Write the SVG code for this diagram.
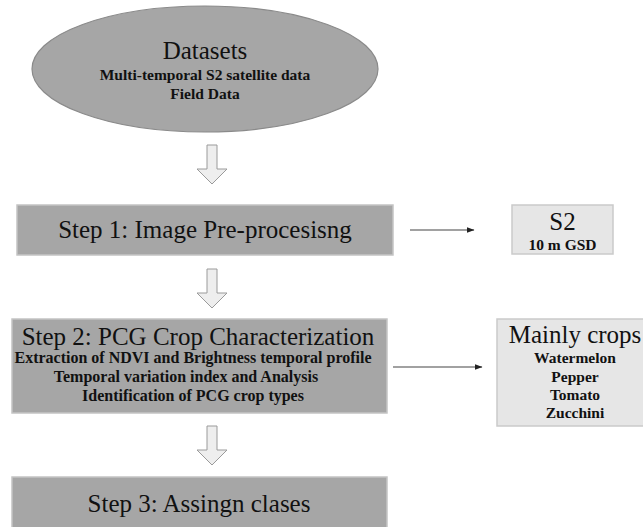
<svg xmlns="http://www.w3.org/2000/svg" width="643" height="527" viewBox="0 0 643 527" font-family="'Liberation Serif', 'DejaVu Serif', serif">
<style>
.dark{fill:#a6a6a6;stroke:#c4c4c4;stroke-width:1.5}
.ell{fill:#a6a6a6;stroke:#8a8a8a;stroke-width:1.2}
.light{fill:#e6e6e6;stroke:#cacaca;stroke-width:1.5}
text{font-family:'Liberation Serif','DejaVu Serif',serif}
.big{font-size:25px;fill:#111;text-anchor:middle}
.sub{font-size:15.5px;font-weight:bold;fill:#111;text-anchor:middle}
.s16{font-size:16px}
.blk{fill:#eeeeee;stroke:#9a9a9a;stroke-width:1}
.ln{stroke:#444;stroke-width:1.2;fill:none}
</style>
<defs>
<marker id="ah" markerWidth="8" markerHeight="6" refX="7.5" refY="3" orient="auto" markerUnits="userSpaceOnUse">
<path d="M0,0 L8,3 L0,6 Z" fill="#222"/>
</marker>
<path id="blockArrow" d="M-5,0 H5 V24 H15 L0,39 L-15,24 H-5 Z"/>
</defs>
<rect width="643" height="527" fill="#fff"/>

<g id="datasets">
<ellipse class="ell" cx="205" cy="69" rx="173" ry="63"/>
<text class="big" x="205" y="59">Datasets</text>
<text class="sub" x="205" y="80">Multi-temporal S2 satellite data</text>
<text class="sub" x="205" y="99">Field Data</text>
</g>

<g id="step1">
<rect class="dark" x="17" y="205" width="376" height="50"/>
<text class="big" x="205" y="238">Step 1: Image Pre-procesisng</text>
</g>

<g id="s2">
<rect class="light" x="512" y="205" width="101" height="49"/>
<text class="big" x="562.5" y="230">S2</text>
<text class="sub" x="562.5" y="250">10 m GSD</text>
</g>

<g id="step2">
<rect class="dark" x="12" y="319" width="375" height="94"/>
<text class="big" x="198" y="345">Step 2: PCG Crop Characterization</text>
<text class="sub s16" x="193" y="363">Extraction of NDVI and Brightness temporal profile</text>
<text class="sub s16" x="186" y="382">Temporal variation  index and Analysis</text>
<text class="sub s16" x="193" y="401">Identification  of PCG crop types</text>
</g>

<g id="crops">
<rect class="light" x="497" y="319" width="160" height="107"/>
<text class="big" x="575" y="343">Mainly crops</text>
<text class="sub" x="575" y="363">Watermelon</text>
<text class="sub" x="575" y="382">Pepper</text>
<text class="sub" x="575" y="400">Tomato</text>
<text class="sub" x="575" y="418">Zucchini</text>
</g>

<g id="step3">
<rect class="dark" x="12" y="477" width="375" height="60"/>
<text class="big" x="199" y="512">Step 3: Assingn clases</text>
</g>

<g id="connectors">
<use href="#blockArrow" class="blk" x="212" y="145"/>
<use href="#blockArrow" class="blk" x="212" y="269"/>
<use href="#blockArrow" class="blk" x="212" y="426"/>
<line class="ln" x1="410" y1="230" x2="474" y2="230" marker-end="url(#ah)"/>
<line class="ln" x1="393" y1="367" x2="482" y2="367" marker-end="url(#ah)"/>
</g>
</svg>
